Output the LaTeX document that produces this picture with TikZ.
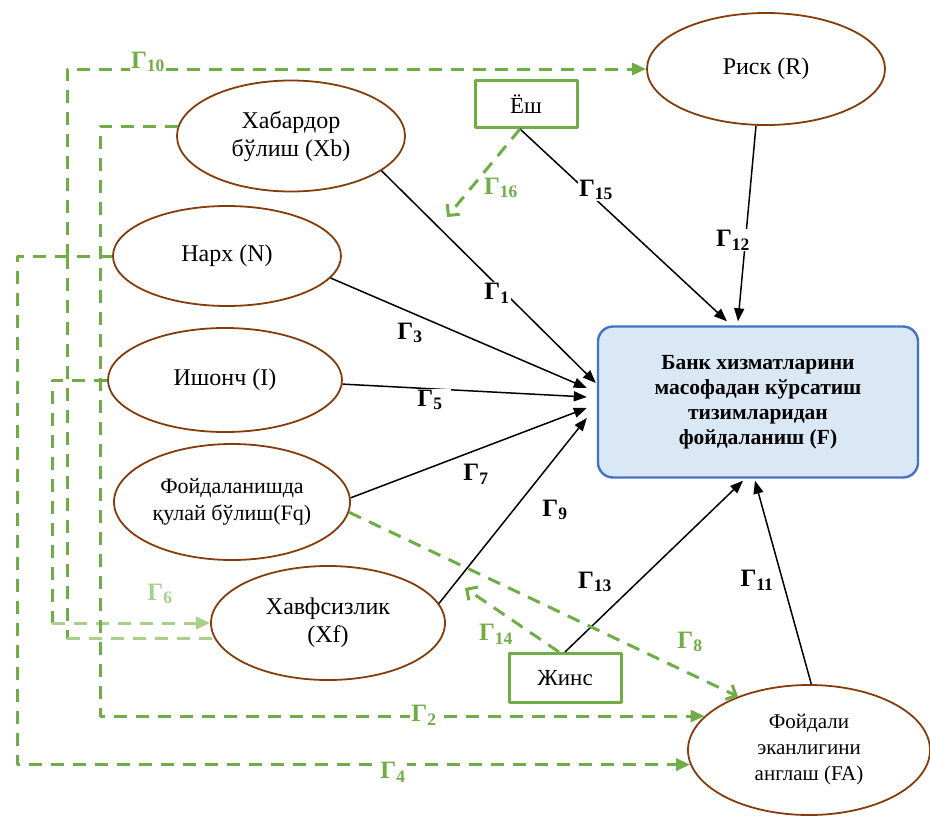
\documentclass[tikz,border=0pt]{standalone}
\usepackage{fontspec}
\setmainfont{Liberation Serif}
\usetikzlibrary{shapes.geometric,arrows.meta,calc}
\definecolor{brn}{RGB}{133,60,12}
\definecolor{grn}{RGB}{112,173,71}
\definecolor{lgrn}{RGB}{168,208,140}
\definecolor{blu}{RGB}{68,114,196}
\definecolor{lblu}{RGB}{218,231,245}
\newcommand{\gam}[1]{\textbf{Г}\textsubscript{\textbf{#1}}}
\tikzset{
  var/.style={ellipse, draw=brn, line width=1.8pt, inner sep=0pt, align=center,
    font=\fontsize{24}{28}\selectfont},
  ctrl/.style={draw=grn, line width=3pt, inner sep=0pt,
    font=\fontsize{23}{27}\selectfont},
  dep/.style={draw=blu, fill=lblu, line width=2.4pt, rounded corners=15pt, align=center,
    inner sep=0pt, minimum width=320pt, minimum height=151pt,
    font=\fontsize{21.5}{25}\selectfont\bfseries},
  eff/.style={line width=1.5pt, -{Triangle[length=13pt,width=10pt]}},
  gline/.style={draw=grn, line width=3pt, dash pattern=on 13pt off 9pt},
  gtip/.style={-{Triangle[length=14pt,width=12pt]}},
  gopen/.style={-{Straight Barb[length=8pt,width=16pt,line width=3pt]}},
  lbl/.style={font=\fontsize{25}{27}\selectfont, inner sep=1pt},
}
\begin{document}
\begin{tikzpicture}[x=1pt, y=-1pt, line join=round]
\useasboundingbox (0,0) rectangle (930,817);
% latent variables
\node[var, minimum width=228pt, minimum height=111pt] (Xb) at (291,136) {Хабардор\\бўлиш (Xb)};
\node[var, minimum width=228pt, minimum height=100pt] (N) at (227,256) {Нарх (N)};
\node[var, minimum width=234pt, minimum height=104pt] (I) at (225,380) {Ишонч (I)};
\node[var, minimum width=236pt, minimum height=116pt, font=\fontsize{22}{27}\selectfont] (Fq) at (232,502) {Фойдаланишда\\қулай бўлиш(Fq)};
\node[var, minimum width=234pt, minimum height=114pt] (Xf) at (328,623) {Хавфсизлик\\(Xf)};
\node[var, minimum width=238pt, minimum height=112pt] (R) at (766,69) {Риск (R)};
\node[var, minimum width=242pt, minimum height=130pt, font=\fontsize{21}{26}\selectfont] (FA) at (809,750) {Фойдали\\эканлигини\\англаш (FA)};
\node[dep] (F) at (758,402) {Банк хизматларини\\масофадан кўрсатиш\\тизимларидан\\фойдаланиш (F)};
% control variables
\node[ctrl, minimum width=102pt, minimum height=47pt] (Yosh) at (526,104) {Ёш};
\node[ctrl, minimum width=112pt, minimum height=49pt] (Jins) at (565,678) {Жинс};
% corners and free ends of the dashed paths
\coordinate (k4) at (17,0);
\coordinate (k6) at (52,0);
\coordinate (k10) at (67,0);
\coordinate (k2) at (100,0);
\coordinate (e16) at (447,217);
\coordinate (e14) at (465,588);

% direct effects
\draw[eff] (Xb.-21) -- ($(F.west)+(-1,-19)$);
\draw[eff] (N.-12) -- ($(F.west)+(-10,-14)$);
\draw[eff] (I.-2) -- ($(F.west)+(-10,-5)$);
\draw[eff] (Fq.2) -- ($(F.west)+(-10,6)$);
\draw[eff] (Xf.10) -- ($(F.west)+(-10,16)$);
\draw[eff] ($(Yosh.south)+(-6,0)$) -- ($(F.north)+(-31,-4)$);
\draw[eff] (R.-100) -- ($(F.north)+(-20,-4)$);
\draw[eff] (Jins.north) -- ($(F.south)+(-15,2)$);
\draw[eff] (FA.88) -- ($(F.south)+(-3,2)$);

% indirect and moderating effects
\draw[gline, gtip] (N.west) -- (N.west -| k4) |- (FA.187);
\draw[gline, gtip] (N.west) -- (N.west -| k10) |- (R.west);
\draw[gline] (N.west -| k10) -- (k10 |- Xf.188);
\draw[gline, draw=lgrn] (k10 |- Xf.188) -- (Xf.188);
\draw[gline] (I.west) -- (I.west -| k6) -- (k6 |- Xf.west);
\draw[gline, draw=lgrn, gtip] (k6 |- Xf.west) -- (Xf.west);
\draw[gline, gtip] (Xb.175) -- (Xb.175 -| k2) |- (FA.162);
\draw[gline, gopen] (Fq.-5) -- (FA.143);
\draw[gline, gopen] ($(Jins.north)+(-6,0)$) -- (e14);
\draw[gline, gopen] ($(Yosh.south)+(-6,0)$) -- (e16);

% path labels
\node[lbl, fill=white] (g1) at (497,293) {\gam{1}};
\node[lbl] (g3) at (410,333) {\gam{3}};
\node[lbl, fill=white, inner xsep=8pt] (g5) at (430,400) {\gam{5}};
\node[lbl, fill=white] (g7) at (476,474) {\gam{7}};
\node[lbl] (g9) at (555,510) {\gam{9}};
\node[lbl, fill=white] (g15) at (596,190) {\gam{15}};
\node[lbl, fill=white] (g12) at (733,240) {\gam{12}};
\node[lbl] (g13) at (595,582) {\gam{13}};
\node[lbl] (g11) at (757,580) {\gam{11}};
\node[lbl, text=grn, fill=white] (g10) at (148,62) {\gam{10}};
\node[lbl, text=grn] (g16) at (501,188) {\gam{16}};
\node[lbl, text=grn] (g14) at (496,634) {\gam{14}};
\node[lbl, text=grn] (g8) at (690,642) {\gam{8}};
\node[lbl, text=lgrn] (g6) at (160,594) {\gam{6}};
\node[lbl, text=grn, fill=white] (g2) at (424,715) {\gam{2}};
\node[lbl, text=grn, fill=white] (g4) at (393,772) {\gam{4}};
\end{tikzpicture}
\end{document}
